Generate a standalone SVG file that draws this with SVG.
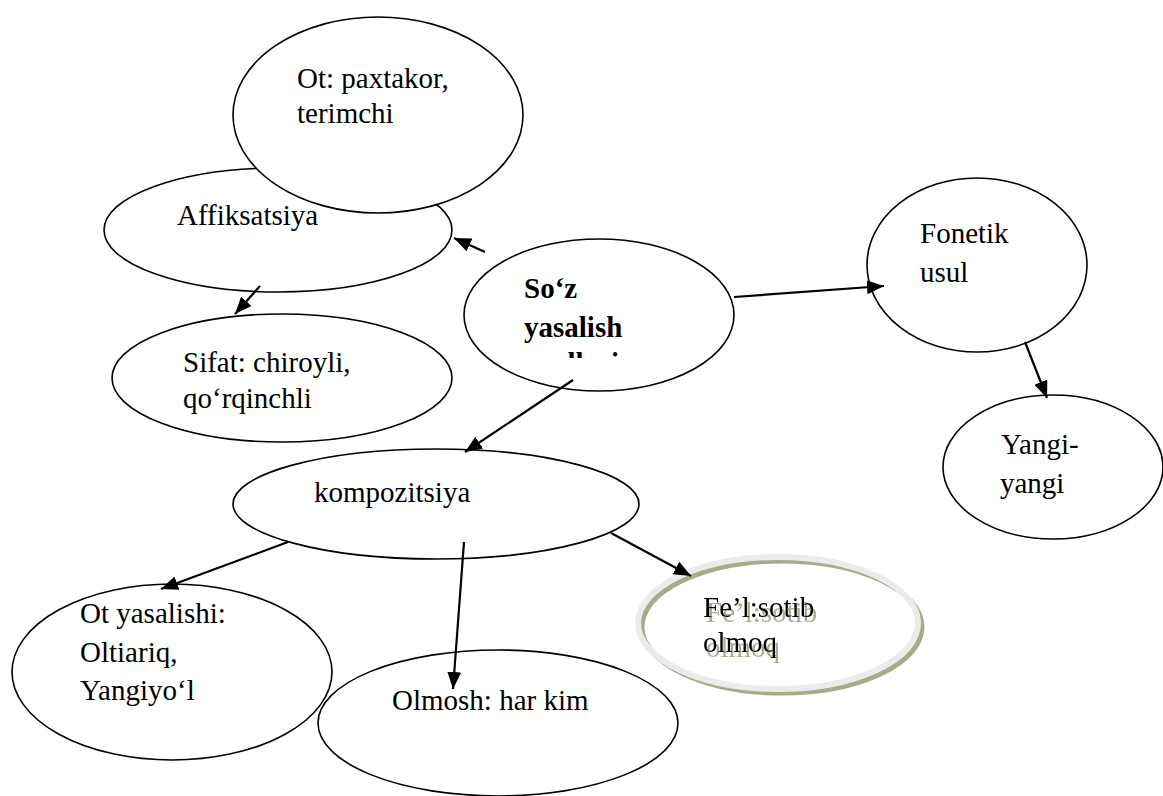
<svg xmlns="http://www.w3.org/2000/svg" width="1163" height="796" viewBox="0 0 1163 796">
<style>
.n{fill:#fff;stroke:#000;stroke-width:1.6}
.t{font-family:"Liberation Serif","Times New Roman",serif;font-size:29px;fill:#000}
.b{font-weight:bold}
.c{stroke:#000;stroke-width:2.2;fill:none;marker-end:url(#ah)}
</style>
<defs>
<marker id="ah" markerUnits="userSpaceOnUse" markerWidth="18" markerHeight="14" refX="17" refY="7" orient="auto">
<path d="M0,0 L17,7 L0,14 z" fill="#000"/>
</marker>
<clipPath id="clip3"><rect x="460" y="340" width="280" height="18"/></clipPath>
<filter id="tsh" x="-10%" y="-30%" width="130%" height="180%">
<feDropShadow dx="3" dy="5" stdDeviation="0.4" flood-color="#9aa585" flood-opacity="0.9"/>
</filter>
</defs>
<rect width="1163" height="796" fill="#fff"/>
<g id="affiksatsiya">
<ellipse class="n" cx="278" cy="230" rx="174" ry="62"/>
</g>
<g id="ot-paxtakor">
<ellipse class="n" cx="378" cy="115" rx="145" ry="98"/>
<text class="t" x="297" y="88">Ot: paxtakor,</text>
<text class="t" x="297" y="123">terimchi</text>
</g>
<g id="affiksatsiya-label">
<text class="t" x="177" y="225">Affiksatsiya</text>
</g>
<g id="sifat">
<ellipse class="n" cx="282" cy="378" rx="170" ry="64"/>
<text class="t" x="183" y="372">Sifat: chiroyli,</text>
<text class="t" x="183" y="408">qo‘rqinchli</text>
</g>
<g id="soz-yasalish">
<ellipse class="n" cx="599" cy="315" rx="135" ry="76"/>
<text class="t b" x="524" y="298">So‘z</text>
<text class="t b" x="524" y="337">yasalish</text>
<text class="t b" x="524" y="373" clip-path="url(#clip3)">usullari</text>
</g>
<g id="fonetik">
<ellipse class="n" cx="977" cy="265" rx="110" ry="87"/>
<text class="t" x="920" y="243">Fonetik</text>
<text class="t" x="920" y="282">usul</text>
</g>
<g id="yangi">
<ellipse class="n" cx="1053" cy="467" rx="110" ry="72"/>
<text class="t" x="1001" y="454">Yangi-</text>
<text class="t" x="1000" y="493">yangi</text>
</g>
<g id="kompozitsiya">
<ellipse class="n" cx="436" cy="504" rx="203" ry="55"/>
<text class="t" x="314" y="502">kompozitsiya</text>
</g>
<g id="ot-yasalishi">
<ellipse class="n" cx="172" cy="672" rx="160" ry="88"/>
<text class="t" x="80" y="623">Ot yasalishi:</text>
<text class="t" x="80" y="662">Oltiariq,</text>
<text class="t" x="80" y="700">Yangiyo‘l</text>
</g>
<g id="olmosh">
<ellipse class="n" cx="498" cy="723" rx="180" ry="73"/>
<text class="t" x="392" y="710">Olmosh: har kim</text>
</g>
<g id="fel">
<ellipse cx="782" cy="627" rx="140" ry="66" fill="none" stroke="#a3ad8d" stroke-width="5"/>
<ellipse cx="778" cy="623" rx="140" ry="66" fill="none" stroke="#ebebeb" stroke-width="6"/>
<g filter="url(#tsh)">
<text class="t" x="703" y="617">Fe’l:sotib</text>
<text class="t" x="703" y="652">olmoq</text>
</g>
</g>
<g id="connectors">
<line class="c" x1="485" y1="252" x2="454" y2="238"/>
<line class="c" x1="260" y1="286" x2="235" y2="314"/>
<line class="c" x1="734" y1="297" x2="884" y2="286"/>
<line class="c" x1="1025" y1="342" x2="1047" y2="398"/>
<line class="c" x1="573" y1="380" x2="465" y2="452"/>
<line class="c" x1="288" y1="542" x2="161" y2="589"/>
<line class="c" x1="464" y1="542" x2="453" y2="689"/>
<line class="c" x1="611" y1="533" x2="691" y2="576"/>
</g>
</svg>
